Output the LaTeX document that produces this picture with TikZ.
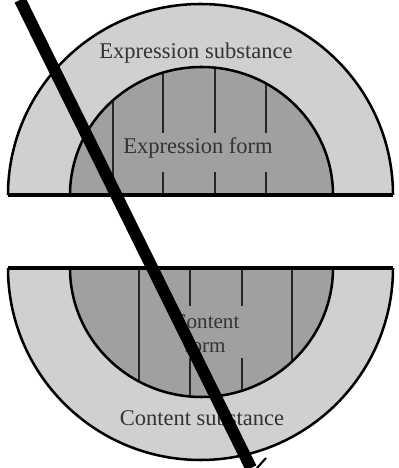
\documentclass[tikz,border=0pt]{standalone}
\usepackage{fontspec}
\setmainfont{Liberation Serif}
\definecolor{substancja}{RGB}{208,208,208}
\definecolor{forma}{RGB}{160,160,160}
\tikzset{
  kontur/.style={line width=1.8pt, draw=black},
  podzial/.style={line width=1pt, black!85},
  napis/.style={font=\fontsize{16}{17}\selectfont, text=black!80, align=center, inner sep=0pt}
}
\begin{document}
\begin{tikzpicture}[x=0.025cm, y=0.025cm]
        \useasboundingbox (0,0) rectangle (399,468);
        \clip (0,0) rectangle (399,468);

        % Ekspresja (gora)
        \fill[substancja] (8,273) arc (180:0:192.5 and 191) -- cycle;
        \fill[forma] (70,273) arc (180:0:131.5 and 128) -- cycle;
        \begin{scope}
            \clip (70,273) arc (180:0:131.5 and 128) -- cycle;
            \draw[podzial] (113,273) -- (113,420);
            \foreach \x in {163,215,266} {
                \draw[podzial] (\x,273) -- (\x,296);
                \draw[podzial] (\x,335) -- (\x,420);
            }
        \end{scope}
        \draw[kontur] (8,273) arc (180:0:192.5 and 191);
        \draw[kontur] (70,273) arc (180:0:131.5 and 128);
        \draw[line width=2.4pt] (8,273) -- (393,273);

        % Tresc (dol)
        \fill[substancja] (8,200) arc (180:360:192.5 and 192) -- cycle;
        \fill[forma] (70,200) arc (180:360:131.5 and 129) -- cycle;
        \begin{scope}
            \clip (70,200) arc (180:360:131.5 and 129) -- cycle;
            \draw[podzial] (139,200) -- (139,50);
            \draw[podzial] (292,200) -- (292,50);
            \foreach \x in {190,242} {
                \draw[podzial] (\x,200) -- (\x,162);
                \draw[podzial] (\x,110) -- (\x,50);
            }
        \end{scope}
        \draw[kontur] (8,200) arc (180:360:192.5 and 192);
        \draw[kontur] (70,200) arc (180:360:131.5 and 129);
        \draw[line width=2.4pt] (8,200) -- (393,200);

        % Napisy
        \node[napis] (exsub) at (196,415) {Expression substance};
        \node[napis] (exform) at (198,320) {Expression form};
        \node[napis, font=\fontsize{15}{16}\selectfont, anchor=base] (content) at (206,139) {Content};
        \node[napis, font=\fontsize{15}{16}\selectfont, anchor=base] (form) at (205,115) {form};
        \node[napis] (consub) at (202,50) {Content substance};

        % Kreska
        \coordinate (kreskaA) at (20,468);
        \coordinate (kreskaB) at (251,0);
        \draw[line width=8.5pt] (kreskaA) -- (kreskaB);
        \coordinate (grotA) at (257,0);
        \coordinate (grotB) at (266,10);
        \draw[line width=1.5pt] (grotA) -- (grotB);
\end{tikzpicture}
\end{document}
